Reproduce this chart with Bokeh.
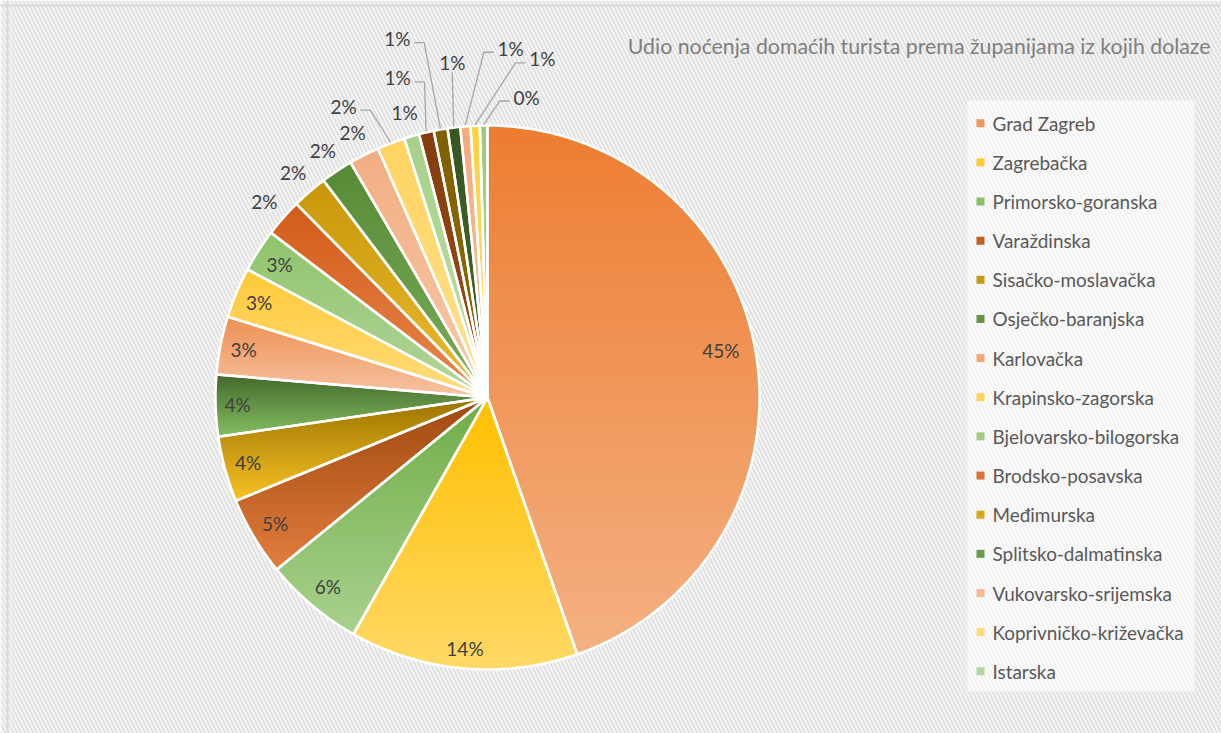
import math
from bokeh.plotting import figure
from bokeh.models import Range1d, Label, Span
from bokeh.core.properties import value
from bokeh.embed import file_html
from bokeh.resources import INLINE

# ---------------- data ----------------
title_text = "Udio noćenja domaćih turista prema županijama iz kojih dolaze"

counties = [
    "Grad Zagreb", "Zagrebačka", "Primorsko-goranska", "Varaždinska",
    "Sisačko-moslavačka", "Osječko-baranjska", "Karlovačka",
    "Krapinsko-zagorska", "Bjelovarsko-bilogorska", "Brodsko-posavska",
    "Međimurska", "Splitsko-dalmatinska", "Vukovarsko-srijemska",
    "Koprivničko-križevačka", "Istarska", "Požeško-slavonska",
    "Šibensko-kninska", "Zadarska", "Virovitičko-podravska",
    "Dubrovačko-neretvanska", "Ličko-senjska",
]
shares = [44.65, 13.55, 5.9, 4.7, 3.9, 3.65, 3.45, 3.0, 2.55, 2.25, 2.1,
          1.9, 1.8, 1.65, 0.9, 0.88, 0.82, 0.75, 0.6, 0.55, 0.45]
legend_count = 15  # entries visible in the legend

# ---------------- style ----------------
top_colors = ["#ED7D31", "#FFC000", "#70AD47", "#9E480E", "#997300", "#43682B",
              "#EE9052", "#FFC936", "#8FC36A", "#D25B18", "#C8960A", "#578A37",
              "#F2AE84", "#FFD461", "#A6D18A", "#843C0C", "#7F6000", "#375623",
              "#F4AA7E", "#FFD23F", "#9BCB7B"]
bottom_colors = ["#F4B183", "#FFD966", "#A9D18E", "#E27D3E", "#F8C225", "#84BD62",
                 "#F6C4A4", "#FFDD7E", "#B3D79C", "#E8884F", "#EDBB30", "#7AAE58",
                 "#F7C8A8", "#FFE08E", "#C0DDAA", "#9C4C18", "#8F6D00", "#446A2B",
                 "#F6C2A0", "#FFDC70", "#B4D89D"]

W, H = 1221, 733
CX, CY, R = 487, 336, 272          # pie centre / radius in plot units (1 unit = 1 px)
FONT = "Lato"
FS = 19

# manual placements of crowded labels: index -> (angle deg clockwise from 12h, radius)
label_nudge = {0: (78.6, 238),
               13: (333.7, 325), 15: (344.3, 332), 16: (345.9, 370),
               17: (354.0, 337), 18: (3.8, 350), 19: (9.2, 343), 20: (7.4, 303)}


def hex2rgb(h):
    h = h.lstrip("#")
    return tuple(int(h[i:i + 2], 16) for i in (0, 2, 4))


def mix(c1, c2, t):
    a, b = hex2rgb(c1), hex2rgb(c2)
    return "#%02x%02x%02x" % tuple(int(round(a[i] + (b[i] - a[i]) * t)) for i in range(3))


def polar(a_deg, r):
    a = math.radians(a_deg)
    return CX + r * math.sin(a), CY + r * math.cos(a)


def slice_poly(a0, a1):
    n = max(2, int(math.ceil((a1 - a0) / 0.4)))
    xs, ys = [CX], [CY]
    for k in range(n + 1):
        x, y = polar(a0 + (a1 - a0) * k / n, R)
        xs.append(x)
        ys.append(y)
    return xs, ys


def clip(xs, ys, yc, keep_above):
    ox, oy = [], []
    n = len(xs)
    for i in range(n):
        x1, y1 = xs[i - 1], ys[i - 1]
        x2, y2 = xs[i], ys[i]
        in1 = y1 >= yc if keep_above else y1 <= yc
        in2 = y2 >= yc if keep_above else y2 <= yc
        if in2:
            if not in1:
                t = (yc - y1) / (y2 - y1)
                ox.append(x1 + t * (x2 - x1)); oy.append(yc)
            ox.append(x2); oy.append(y2)
        elif in1:
            t = (yc - y1) / (y2 - y1)
            ox.append(x1 + t * (x2 - x1)); oy.append(yc)
    return ox, oy


p = figure(width=W, height=H, output_backend="svg", toolbar_location=None,
           x_range=Range1d(0, W), y_range=Range1d(0, H), min_border=0)
p.axis.visible = False
p.grid.visible = False
p.outline_line_color = None
p.background_fill_color = "white"
p.border_fill_color = "white"

# hatched chart-area background
p.quad(left=[0], right=[W], bottom=[0], top=[H], fill_color="white",
       hatch_pattern="\\", hatch_color="#e2e2e2", hatch_weight=2.5, hatch_scale=8,
       line_color=None)
p.add_layout(Span(location=7, dimension="height", line_color="#d9d9d9", line_width=2))
p.add_layout(Span(location=H - 5, dimension="width", line_color="#d9d9d9", line_width=2))

total = sum(shares)
angles = []
acc = 0.0
for s in shares:
    a0 = acc / total * 360.0
    acc += s
    angles.append((a0, acc / total * 360.0))

# gradient-filled slices (horizontal bands)
band_xs, band_ys, band_cols = [], [], []
outline_xs, outline_ys = [], []
for i, (a0, a1) in enumerate(angles):
    xs, ys = slice_poly(a0, a1)
    outline_xs.append(xs); outline_ys.append(ys)
    ymin, ymax = min(ys), max(ys)
    nb = max(3, int(math.ceil((ymax - ymin) / 3.0)))
    for b in range(nb):
        yhi = ymax - (ymax - ymin) * b / nb
        ylo = ymax - (ymax - ymin) * (b + 1) / nb
        bx, by = clip(xs, ys, ylo, True)
        if len(bx) < 3:
            continue
        bx, by = clip(bx, by, yhi, False)
        if len(bx) < 3:
            continue
        t = (ymax - (ylo + yhi) / 2) / (ymax - ymin)
        band_xs.append(bx); band_ys.append(by)
        band_cols.append(mix(top_colors[i], bottom_colors[i], t))

p.patches(xs=band_xs, ys=band_ys, fill_color=band_cols, line_color=band_cols, line_width=1)
p.patches(xs=outline_xs, ys=outline_ys, fill_color=None, line_color="white",
          line_width=2.5, line_join="round")

# data labels
lab_x, lab_y, lab_t = [], [], []
lead_xs, lead_ys = [], []
for i, (a0, a1) in enumerate(angles):
    pct = shares[i] / total * 100
    txt = "%d%%" % int(pct + 0.5)
    mid = (a0 + a1) / 2
    w = (0.55 * (len(txt) - 1) + 0.8) * FS
    h = 19
    th = math.radians(mid)
    if pct >= 2.5:
        along = abs(w / 2 * math.sin(th)) + abs(h / 2 * math.cos(th))
        ang, rad = label_nudge.get(i, (mid, R - 9 - along))
        lx, ly = polar(ang, rad)
    else:
        ang, rad = label_nudge.get(i, (mid, R + 25))
        lx, ly = polar(ang, rad)
        if i in label_nudge:
            ax, ay = polar(mid, R + 1)
            hw = w / 2
            if abs(ax - lx) < hw:
                lead_xs.append([lx, ax]); lead_ys.append([ly - 10, ay])
            elif ax > lx:
                sx = lx + hw + 4
                lead_xs.append([sx, sx + 10, ax]); lead_ys.append([ly - 4, ly - 4, ay])
            else:
                sx = lx - hw - 4
                lead_xs.append([sx, sx - 10, ax]); lead_ys.append([ly - 4, ly - 4, ay])
    lab_x.append(lx); lab_y.append(ly); lab_t.append(txt)

p.multi_line(xs=lead_xs, ys=lead_ys, line_color="#a6a6a6", line_width=1.3)
p.text(x=lab_x, y=lab_y, text=lab_t, text_font=value(FONT), text_font_size=value("%dpx" % FS),
       text_color="#404040", text_align="center", text_baseline="middle")

# title
p.add_layout(Label(x=1210, y=H - 45, text=title_text, text_font=FONT,
                   text_font_size="21.3px", text_color="#7f7f7f",
                   text_align="right", text_baseline="middle"))

# legend (manual)
p.quad(left=[967], right=[1194], bottom=[H - 691], top=[H - 100], fill_color="white",
       fill_alpha=0.6, line_color=None)
leg_y = [H - (122.7 + 39.15 * k) for k in range(legend_count)]
leg_cols = [mix(top_colors[k], bottom_colors[k], 0.5) for k in range(legend_count)]
p.scatter(x=[980] * legend_count, y=leg_y, marker="square", size=8,
          fill_color=leg_cols, line_color=None)
p.text(x=[992] * legend_count, y=leg_y, text=counties[:legend_count],
       text_font=value(FONT), text_font_size=value("18.9px"), text_color="#595959",
       text_align="left", text_baseline="middle")

open("out.html", "w").write(file_html(p, INLINE))
